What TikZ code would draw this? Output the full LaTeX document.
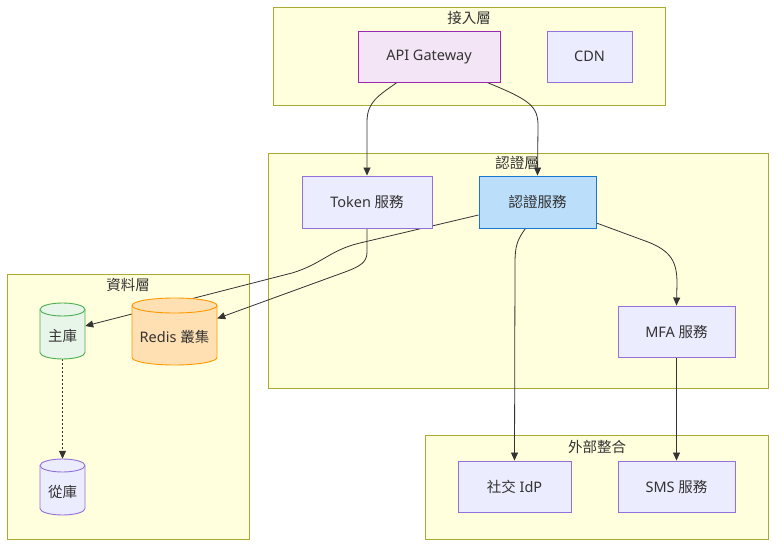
\documentclass[tikz,border=0pt]{standalone}
\usepackage{fontspec}
\setmainfont{Noto Sans}
\newfontfamily\cjk{Noto Sans CJK TC}
\usetikzlibrary{arrows.meta,calc}
\definecolor{clfill}{HTML}{FFFFDE}
\definecolor{cldraw}{HTML}{AAAA33}
\definecolor{ndfill}{HTML}{ECECFF}
\definecolor{nddraw}{HTML}{9370DB}
\definecolor{txt}{HTML}{333333}
\definecolor{edge}{HTML}{333333}
\definecolor{apifill}{HTML}{F3E5F5}
\definecolor{apidraw}{HTML}{9C27B0}
\definecolor{authfill}{HTML}{BBDEFB}
\definecolor{authdraw}{HTML}{1976D2}
\definecolor{mfill}{HTML}{E8F5E9}
\definecolor{mdraw}{HTML}{4CAF50}
\definecolor{rfill}{HTML}{FFE0B2}
\definecolor{rdraw}{HTML}{FF9800}
\pgfdeclarelayer{clusters}
\pgfdeclarelayer{edges}
\pgfsetlayers{clusters,edges,main}
\tikzset{
  cluster/.style={draw=cldraw,fill=clfill,line width=0.9pt,inner sep=0},
  cltitle/.style={text=txt,font=\fontsize{14.5}{16}\selectfont\cjk,inner sep=0},
  box/.style={draw=nddraw,fill=ndfill,line width=0.9pt,inner sep=0,text=txt,font=\fontsize{14.5}{16}\selectfont},
  conn/.style={draw=edge,line width=0.8pt,-{Triangle[length=8pt,width=7pt]}},
  dotconn/.style={conn,dash pattern=on 2pt off 2pt},
  cyltext/.style={text=txt,font=\fontsize{14.5}{16}\selectfont,inner sep=0}
}
% #1 name, #2 cx, #3 cy, #4 half width, #5 half height, #6 ry, #7 style, #8 text
\newcommand\dbcyl[8]{%
  \path[#7] ({#2-#4},{#3-#5+#6}) -- ({#2-#4},{#3+#5-#6}) arc(180:0:#4 and #6) -- ({#2+#4},{#3-#5+#6}) arc(0:-180:#4 and #6) -- cycle;
  \draw[#7,fill=none] ({#2-#4},{#3-#5+#6}) arc(180:0:#4 and #6);
  \node[inner sep=0,minimum width=2*#4,minimum height=2*#5] (#1) at (#2,#3) {};
  \node[cyltext] (#1-t) at (#2,{#3+5}) {#8};
}
\begin{document}
\begin{tikzpicture}[x=1pt,y=-1pt]
\useasboundingbox (0,0) rectangle (784,553);

% nodes
\node[box,draw=apidraw,fill=apifill,minimum width=142,minimum height=51] (api) at (429,56.5) {API Gateway};
\node[box,minimum width=85,minimum height=51] (cdn) at (589.5,56.5) {CDN};
\node[box,minimum width=130,minimum height=52] (tok) at (367,202) {Token {\cjk 服務}};
\node[box,draw=authdraw,fill=authfill,minimum width=117,minimum height=52] (auth) at (537.5,202) {\cjk 認證服務};
\node[box,minimum width=117,minimum height=51] (mfa) at (676.5,331.5) {MFA {\cjk 服務}};
\node[box,minimum width=113,minimum height=51] (idp) at (514.5,486.5) {{\cjk 社交} IdP};
\node[box,minimum width=117,minimum height=51] (sms) at (676.5,486.5) {SMS {\cjk 服務}};

\dbcyl{mdb}{62.5}{331}{22.5}{28}{6.5}{draw=mdraw,fill=mfill,line width=0.9pt}{\cjk 主庫}
\dbcyl{redis}{174.5}{331.5}{42.5}{33.5}{7.5}{draw=rdraw,fill=rfill,line width=0.9pt}{Redis {\cjk 叢集}}
\dbcyl{sdb}{62.5}{487}{22.5}{28}{6.5}{draw=nddraw,fill=ndfill,line width=0.9pt}{\cjk 從庫}

% clusters
\begin{pgfonlayer}{clusters}
\fill[white] (0,0) rectangle (784,553);
\node[cluster,minimum width=392,minimum height=98] (cl-access) at (469,56) {};
\node[cluster,minimum width=500,minimum height=235] (cl-auth) at (518,270.5) {};
\node[cluster,minimum width=242,minimum height=265] (cl-data) at (128,406.5) {};
\node[cluster,minimum width=343,minimum height=104] (cl-ext) at (596.5,487) {};
\end{pgfonlayer}
\node[cltitle] (t-access) at (469,18) {接入層};
\node[cltitle] (t-auth) at (517,163) {認證層};
\node[cltitle] (t-data) at (128,285) {資料層};
\node[cltitle] (t-ext) at (597,447) {外部整合};

% edges
\begin{pgfonlayer}{edges}
\draw[conn] ([xshift=-32pt]api.south) .. controls (378,96) and (367,102) .. (367,122) -- (tok.north);
\draw[conn] ([xshift=58pt]api.south) .. controls (530,100) and (538,106) .. (538,126) -- (auth.north);
\draw[conn] ([yshift=-13pt]auth.west) -- (360,243) .. controls (330,250) and (322,264) .. (292,273) -- ([yshift=5pt]mdb.east);
\draw[conn] (tok.south) -- (367,252) .. controls (367,262) and (361,266) .. (345,272) -- ([yshift=13pt]redis.east);
\draw[conn] ([xshift=-12pt]auth.south) .. controls (517,240) and (515,246) .. (515,264) -- (idp.north);
\draw[conn] ([yshift=-21pt]auth.east) -- (648,242) .. controls (671,251) and (677,262) .. (677,283) -- (mfa.north);
\draw[conn] (mfa.south) -- (sms.north);
\draw[dotconn] (mdb.south) -- (sdb.north);
\end{pgfonlayer}
\end{tikzpicture}
\end{document}
